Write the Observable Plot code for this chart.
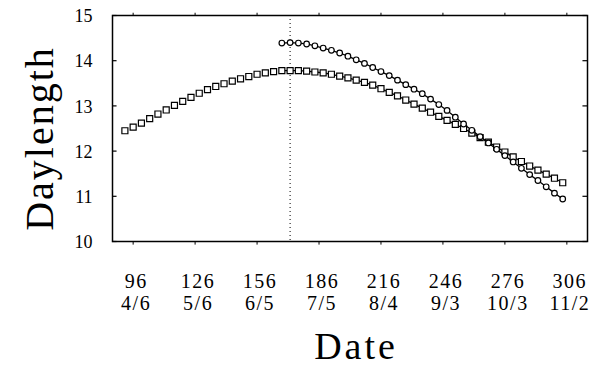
<!DOCTYPE html>
<html>
<head>
<meta charset="utf-8">
<script src="https://cdn.jsdelivr.net/npm/d3@7"></script>
<script src="https://cdn.jsdelivr.net/npm/@observablehq/plot@0.6"></script>
<style>
  html, body { margin: 0; padding: 0; background: #fff; }
  #chart { width: 600px; height: 369px; }
  text[aria-label="xlabels"] { letter-spacing: 1.5px; }
  text[aria-label="ytitle"] { letter-spacing: 2px; }
  text[aria-label="xtitle"] { letter-spacing: 3px; }
</style>
</head>
<body>
<div id="chart"></div>
<script>
// Day-of-year for each sample (every 4 days)
const daysLow = [92,96,100,104,108,112,116,120,124,128,132,136,140,144,148,152,156,160,164,168,172,176,180,184,188,192,196,200,204,208,212,216,220,224,228,232,236,240,244,248,252,256,260,264,268,272,276,280,284,288,292,296,300,304];
const lenLow = [12.45,12.53,12.62,12.72,12.82,12.91,13.01,13.10,13.19,13.28,13.36,13.43,13.49,13.55,13.60,13.65,13.70,13.73,13.76,13.78,13.78,13.78,13.77,13.75,13.73,13.70,13.66,13.62,13.57,13.52,13.46,13.38,13.30,13.22,13.13,13.04,12.95,12.86,12.77,12.68,12.59,12.50,12.40,12.30,12.20,12.09,11.98,11.87,11.77,11.67,11.58,11.49,11.40,11.30];
const daysHigh = [168,172,176,180,184,188,192,196,200,204,208,212,216,220,224,228,232,236,240,244,248,252,256,260,264,268,272,276,280,284,288,292,296,300,304];
const lenHigh = [14.39,14.40,14.39,14.37,14.33,14.28,14.23,14.17,14.10,14.02,13.94,13.85,13.76,13.67,13.57,13.47,13.37,13.27,13.15,13.03,12.90,12.75,12.60,12.46,12.32,12.18,12.04,11.90,11.76,11.62,11.48,11.35,11.21,11.07,10.94];
const lineStartDay = 168;
const solstice = 172;

const xTicks = [96,126,156,186,216,246,276,306];
const xDates = ["4/6","5/6","6/5","7/5","8/4","9/3","10/3","11/2"];
const yTicks = [10,11,12,13,14,15];

const low = daysLow.map((d, i) => ({day: d, len: lenLow[i]}));
const lowLine = low.filter(d => d.day >= lineStartDay);
const high = daysHigh.map((d, i) => ({day: d, len: lenHigh[i]}));
const xLab = xTicks.map((d, i) => ({day: d, date: xDates[i]}));

const font = "'Liberation Serif', 'Times New Roman', serif";

const chart = Plot.plot({
  width: 600,
  height: 369,
  marginLeft: 112,
  marginRight: 13,
  marginTop: 15,
  marginBottom: 128,
  style: {fontFamily: font, background: "#fff", color: "#000"},
  x: {domain: [86, 316], axis: null},
  y: {domain: [10, 15], axis: null},
  marks: [
    Plot.ruleX([solstice], {stroke: "#000", strokeWidth: 1, strokeDasharray: "1,3"}),
    Plot.frame({stroke: "#000", strokeWidth: 1.5}),
    // left & right inward ticks
    Plot.ruleY(yTicks, {x1: 86, x2: 88.2, stroke: "#000", strokeWidth: 1.2}),
    Plot.ruleY(yTicks, {x1: 313.8, x2: 316, stroke: "#000", strokeWidth: 1.2}),
    // bottom & top ticks
    Plot.ruleX(xTicks, {y1: 10, y2: 9.92, stroke: "#000", strokeWidth: 1}),
    Plot.ruleX(xTicks, {y1: 15, y2: 15.05, stroke: "#000", strokeWidth: 1}),
    // y tick labels
    Plot.text(yTicks, {y: d => d, frameAnchor: "left", textAnchor: "end", dx: -20, dy: 1, text: d => String(d), fontSize: 18, fontFamily: font}),
    // x tick labels (two rows)
    Plot.text(xLab, {x: "day", text: d => String(d.day), frameAnchor: "bottom", lineAnchor: "middle", dy: 40, dx: 3, fontSize: 20, fontFamily: font, ariaLabel: () => "xlabels"}),
    Plot.text(xLab, {x: "day", text: "date", frameAnchor: "bottom", lineAnchor: "middle", dy: 62, dx: 3, fontSize: 20, fontFamily: font, ariaLabel: () => "xlabels"}),
    // axis titles
    Plot.text(["Daylength"], {frameAnchor: "left", textAnchor: "middle", rotate: -90, dx: -72, dy: 10, fontSize: 40, lineAnchor: "middle", fontFamily: font, ariaLabel: () => "ytitle"}),
    Plot.text(["Date"], {frameAnchor: "bottom", textAnchor: "middle", dy: 105, dx: 6, fontSize: 38, lineAnchor: "middle", fontFamily: font, ariaLabel: () => "xtitle"}),
    // series
    Plot.line(lowLine, {x: "day", y: "len", stroke: "#000", strokeWidth: 1.3}),
    Plot.line(high, {x: "day", y: "len", stroke: "#000", strokeWidth: 1.3}),
    Plot.dot(low, {x: "day", y: "len", symbol: "square", r: 3.4, stroke: "#000", fill: "#fff", strokeWidth: 1.2}),
    Plot.dot(high, {x: "day", y: "len", symbol: "circle", r: 2.8, stroke: "#000", fill: "#fff", strokeWidth: 1.2})
  ]
});
document.getElementById("chart").appendChild(chart);
</script>
</body>
</html>
